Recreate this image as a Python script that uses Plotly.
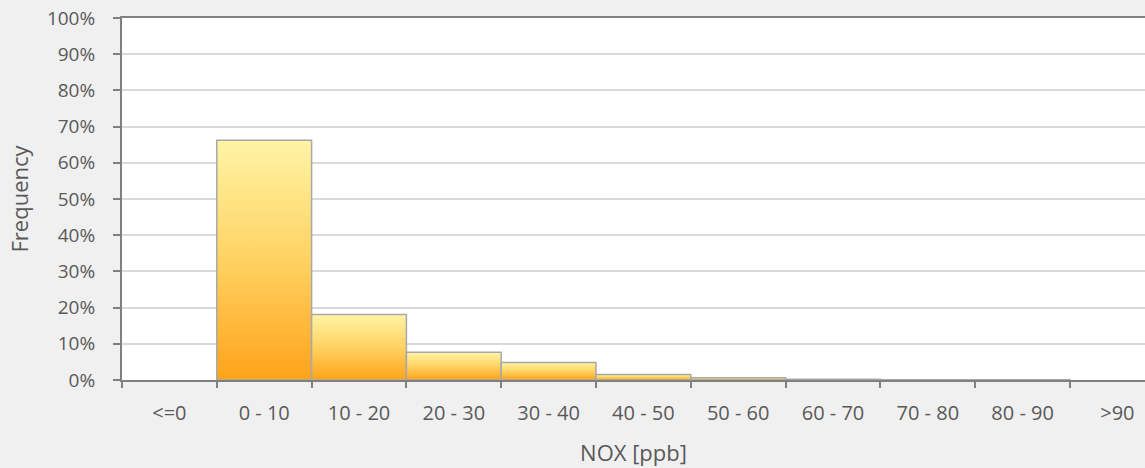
import plotly.graph_objects as go

# NOX concentration bins and the share of samples in each
categories = ["<=0", "0 - 10", "10 - 20", "20 - 30", "30 - 40", "40 - 50",
              "50 - 60", "60 - 70", "70 - 80", "80 - 90", ">90"]
frequency = [0.0, 0.662, 0.181, 0.077, 0.048, 0.015, 0.006, 0.002, 0.001, 0.0005, 0.0]

y_ticks = [i / 10 for i in range(11)]

FONT = "Open Sans"
TEXT = "#595959"
AXIS = "#808080"
GRID = "#D9D9D9"

fig = go.Figure()

# each histogram bar is a closed polygon so it can carry a vertical gradient
for i, (cat, v) in enumerate(zip(categories, frequency)):
    if v <= 0:
        continue
    xs = [i - 0.5, i - 0.5, i + 0.5, i + 0.5, i - 0.5]
    ys = [0, v, v, 0, 0]
    fig.add_trace(go.Scatter(
        x=xs, y=ys, mode="lines", fill="toself",
        fillgradient=dict(
            type="vertical",
            colorscale=[[0, "#FFA31A"], [0.5, "#FFD262"], [1, "#FFF4A6"]],
        ),
        line=dict(color="#A8A8A8", width=1.5),
        name=cat, showlegend=False, hoverinfo="skip",
    ))

fig.update_layout(
    width=1145, height=468,
    margin=dict(l=122, r=0, t=18, b=88),
    paper_bgcolor="#F0F0F0",
    plot_bgcolor="#FFFFFF",
    font=dict(family=FONT, size=20, color=TEXT),
    showlegend=False,
)

fig.update_xaxes(
    range=[-0.5, -0.5 + 1023 / 94.8],
    tickmode="array",
    tickvals=list(range(len(categories))),
    ticktext=categories,
    ticks="", ticklen=0,
    minor=dict(
        tickmode="array",
        tickvals=[k - 0.5 for k in range(len(categories) + 1)],
        ticks="outside", ticklen=6, tickcolor=AXIS, tickwidth=2,
        showgrid=False,
    ),
    showgrid=False, zeroline=False,
    showline=True, linecolor=AXIS, linewidth=2, mirror=True,
    ticklabelstandoff=14,
    tickfont=dict(family=FONT, size=20, color=TEXT),
    title=dict(text="NOX [ppb]", font=dict(family=FONT, size=22, color=TEXT), standoff=21),
)

fig.update_yaxes(
    range=[0, 1],
    tickmode="array",
    tickvals=y_ticks,
    tickformat=".0%",
    ticks="outside", ticklen=7, tickcolor=AXIS, tickwidth=2,
    showgrid=True, gridcolor=GRID, gridwidth=1.5,
    zeroline=False,
    showline=True, linecolor=AXIS, linewidth=2,
    ticklabelstandoff=14,
    tickfont=dict(family=FONT, size=19, color=TEXT),
    title=dict(text="Frequency", font=dict(family=FONT, size=22, color=TEXT), standoff=12),
)

fig.write_html("out.html")
